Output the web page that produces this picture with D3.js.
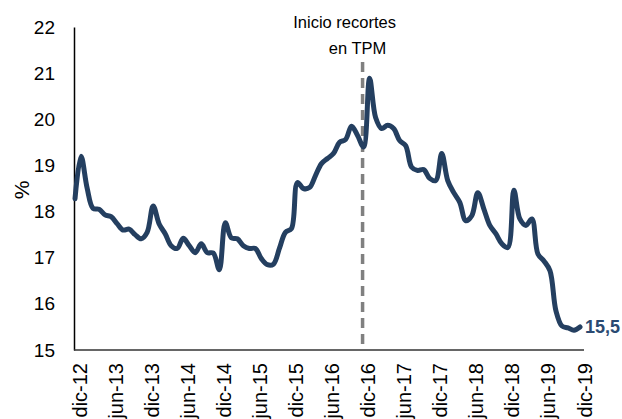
<!DOCTYPE html>
<html>
<head>
<meta charset="utf-8">
<script src="https://cdn.jsdelivr.net/npm/d3@7"></script>
<style>
  html, body { margin: 0; padding: 0; background: #fff; }
  svg { display: block; font-family: "Liberation Sans", Arial, sans-serif; }
</style>
</head>
<body>
<svg id="chart" width="622" height="419"></svg>
<script>
// Monthly categories dic-12 .. dic-19
const months = [
  "dic-12",
  "ene-13","feb-13","mar-13","abr-13","may-13","jun-13","jul-13","ago-13","sep-13","oct-13","nov-13","dic-13",
  "ene-14","feb-14","mar-14","abr-14","may-14","jun-14","jul-14","ago-14","sep-14","oct-14","nov-14","dic-14",
  "ene-15","feb-15","mar-15","abr-15","may-15","jun-15","jul-15","ago-15","sep-15","oct-15","nov-15","dic-15",
  "ene-16","feb-16","mar-16","abr-16","may-16","jun-16","jul-16","ago-16","sep-16","oct-16","nov-16","dic-16",
  "ene-17","feb-17","mar-17","abr-17","may-17","jun-17","jul-17","ago-17","sep-17","oct-17","nov-17","dic-17",
  "ene-18","feb-18","mar-18","abr-18","may-18","jun-18","jul-18","ago-18","sep-18","oct-18","nov-18","dic-18",
  "ene-19","feb-19","mar-19","abr-19","may-19","jun-19","jul-19","ago-19","sep-19","oct-19","nov-19","dic-19"
];

// Series values (%)
const values = [
  18.28,
  19.20, 18.52, 18.07, 18.05, 17.93, 17.89, 17.74, 17.60, 17.62, 17.50, 17.41, 17.55,
  18.12, 17.73, 17.52, 17.26, 17.20, 17.42, 17.26, 17.11, 17.30, 17.11, 17.10, 16.74,
  17.76, 17.43, 17.41, 17.26, 17.20, 17.20, 16.98, 16.85, 16.86, 17.20, 17.55, 17.63,
  18.63, 18.50, 18.52, 18.78, 19.04, 19.15, 19.26, 19.50, 19.56, 19.85, 19.65, 19.40,
  20.89, 20.04, 19.80, 19.87, 19.80, 19.54, 19.43, 18.96, 18.89, 18.91, 18.72, 18.67,
  19.26, 18.67, 18.41, 18.20, 17.80, 17.91, 18.41, 18.06, 17.70, 17.52, 17.30, 17.22,
  18.46, 17.84, 17.70, 17.84, 17.08, 16.93, 16.72, 15.85, 15.52, 15.48, 15.43, 15.50
];

const xTickLabels = ["dic-12","jun-13","dic-13","jun-14","dic-14","jun-15","dic-15","jun-16","dic-16","jun-17","dic-17","jun-18","dic-18","jun-19","dic-19"];
const yTicks = [15, 16, 17, 18, 19, 20, 21, 22];
const markerMonth = "dic-16";
const markerText = ["Inicio recortes", "en TPM"];
const lastLabel = "15,5";

const svg = d3.select("#chart");

const x = d3.scalePoint().domain(months).range([75, 580]);
const y = d3.scaleLinear().domain([15, 22]).range([350, 27]);

// Y axis
const yAxis = svg.append("g")
  .attr("transform", "translate(74,0)")
  .call(d3.axisLeft(y).tickValues(yTicks).tickFormat(d3.format("d"))
    .tickSize(0).tickSizeOuter(0).tickPadding(19));
yAxis.select(".domain").attr("stroke", "#000").attr("stroke-width", 1.5);
yAxis.selectAll("text")
  .attr("font-size", 19)
  .attr("fill", "#000")
  .attr("font-family", "Liberation Sans, Arial, sans-serif");

// X axis
const xAxis = svg.append("g")
  .attr("transform", "translate(0,350)")
  .call(d3.axisBottom(x).tickValues(xTickLabels).tickSize(0).tickSizeOuter(0));
xAxis.select(".domain").remove();
xAxis.selectAll("text")
  .attr("x", null).attr("y", null)
  .attr("dy", "0.35em")
  .attr("text-anchor", "end")
  .attr("transform", "translate(4,13) rotate(-90)")
  .attr("font-size", 20)
  .attr("fill", "#000")
  .attr("font-family", "Liberation Sans, Arial, sans-serif");

svg.append("line")
  .attr("x1", 74).attr("x2", 584)
  .attr("y1", y(15)).attr("y2", y(15))
  .attr("stroke", "#333").attr("stroke-width", 1.5);

// "%" label
svg.append("text")
  .attr("transform", "translate(22,190) rotate(-90)")
  .attr("text-anchor", "middle")
  .attr("dy", "0.35em")
  .attr("font-size", 21)
  .attr("fill", "#000")
  .text("%");

// Dashed marker line
svg.append("line")
  .attr("x1", x(markerMonth) - 1).attr("x2", x(markerMonth) - 1)
  .attr("y1", 62).attr("y2", y(15))
  .attr("stroke", "#808080")
  .attr("stroke-width", 3.5)
  .attr("stroke-dasharray", "10,6");

svg.append("text")
  .attr("x", x(markerMonth) - 19).attr("y", 28)
  .attr("text-anchor", "middle")
  .attr("font-size", 16.5).attr("fill", "#000")
  .text(markerText[0]);
svg.append("text")
  .attr("x", x(markerMonth) - 6).attr("y", 54)
  .attr("text-anchor", "middle")
  .attr("font-size", 16.5).attr("fill", "#000")
  .text(markerText[1]);

// Line
const line = d3.line()
  .x((d, i) => x(months[i]))
  .y(d => y(d))
  .curve(d3.curveCatmullRom.alpha(0.5));

svg.append("path")
  .datum(values)
  .attr("fill", "none")
  .attr("stroke", "#243F60")
  .attr("stroke-width", 5)
  .attr("stroke-linejoin", "round")
  .attr("stroke-linecap", "round")
  .attr("d", line);

// End label
svg.append("text")
  .attr("x", x(months[months.length - 1]) + 5)
  .attr("y", y(values[values.length - 1]))
  .attr("dy", "0.35em")
  .attr("font-size", 18)
  .attr("font-weight", "bold")
  .attr("fill", "#2A4A72")
  .text(lastLabel);
</script>
</body>
</html>
